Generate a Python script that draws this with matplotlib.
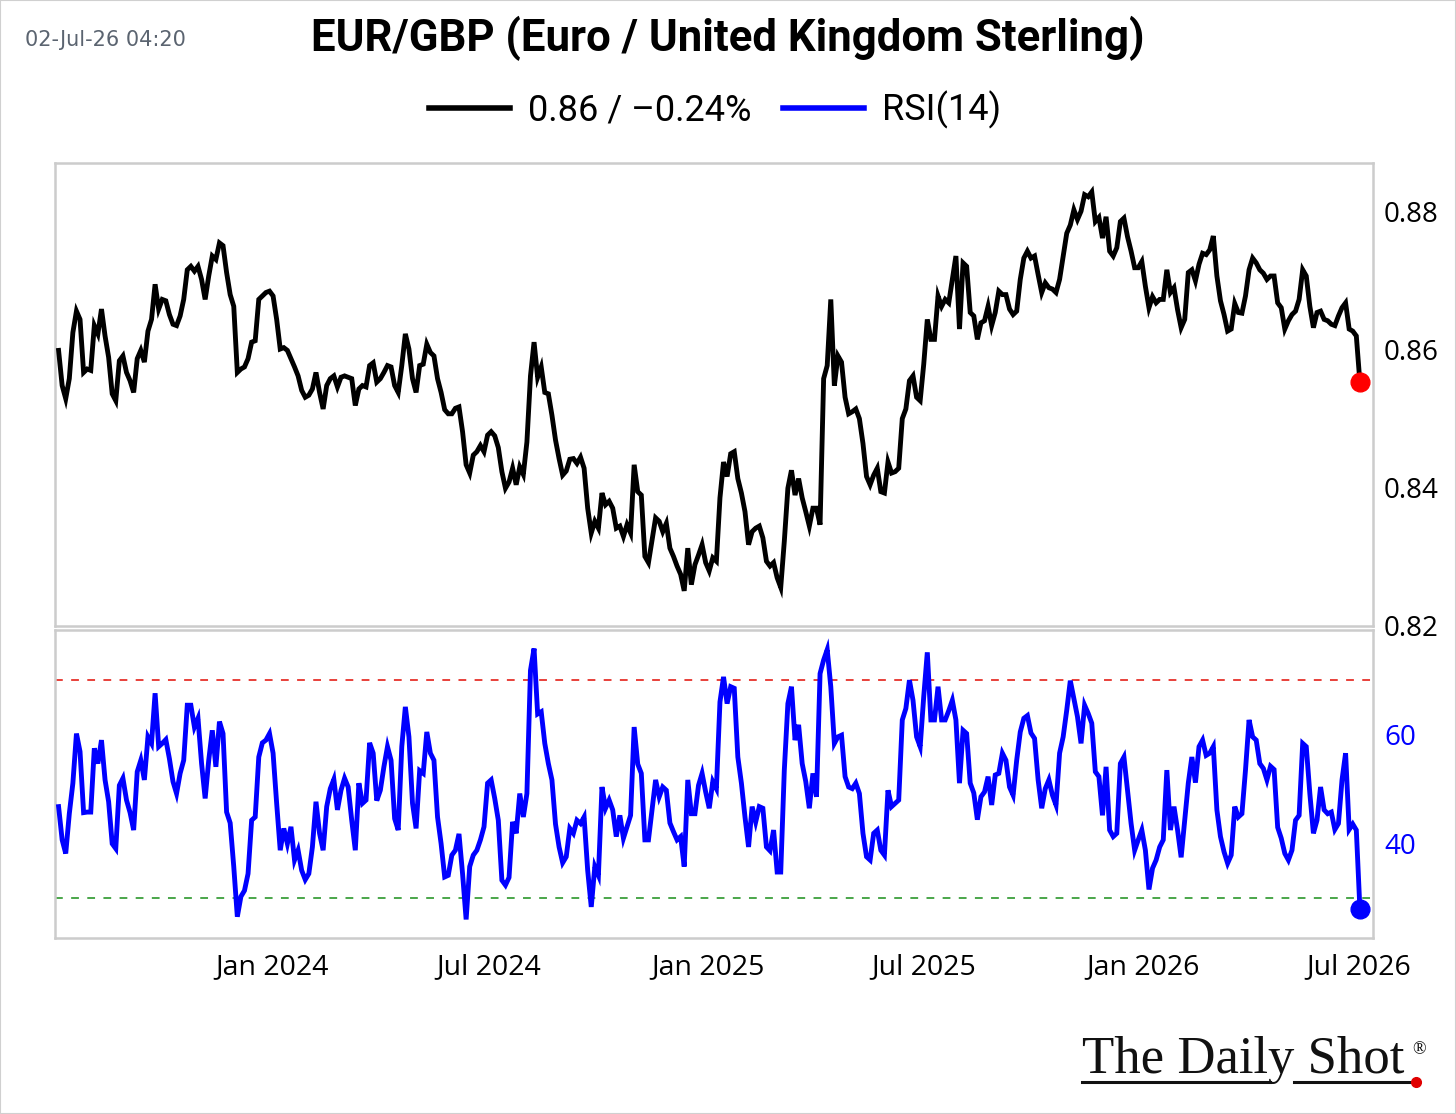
import matplotlib
matplotlib.use('Agg')
import matplotlib.pyplot as plt
from matplotlib.lines import Line2D
from matplotlib.patches import Rectangle
import pandas as pd

# ---------------- data (3-day sampling) ----------------
END_DATE = '2026-07-02'

price = [
    0.8599, 0.8548, 0.8529, 0.8558, 0.8625, 0.8656, 0.8644, 0.8567, 0.8572, 0.8570,
    0.8635, 0.8623, 0.8659, 0.8620, 0.8589, 0.8536, 0.8526, 0.8584, 0.8591, 0.8567,
    0.8555, 0.8538, 0.8587, 0.8599, 0.8582, 0.8627, 0.8644, 0.8695, 0.8659, 0.8673,
    0.8671, 0.8651, 0.8637, 0.8635, 0.8649, 0.8673, 0.8716, 0.8721, 0.8714, 0.8721,
    0.8702, 0.8673, 0.8707, 0.8736, 0.8731, 0.8755, 0.8751, 0.8712, 0.8680, 0.8663,
    0.8567, 0.8572, 0.8575, 0.8587, 0.8611, 0.8613, 0.8673, 0.8678, 0.8683, 0.8685,
    0.8678, 0.8644, 0.8601, 0.8603, 0.8599, 0.8587, 0.8575, 0.8562, 0.8541, 0.8531,
    0.8534, 0.8543, 0.8567, 0.8538, 0.8514, 0.8548, 0.8558, 0.8562, 0.8546, 0.8560,
    0.8562, 0.8560, 0.8558, 0.8519, 0.8543, 0.8548, 0.8546, 0.8577, 0.8581, 0.8553,
    0.8558, 0.8567, 0.8577, 0.8575, 0.8548, 0.8538, 0.8577, 0.8623, 0.8601, 0.8558,
    0.8538, 0.8577, 0.8579, 0.8608, 0.8596, 0.8591, 0.8558, 0.8538, 0.8513, 0.8507,
    0.8507, 0.8515, 0.8517, 0.8481, 0.8433, 0.8421, 0.8447, 0.8452, 0.8461, 0.8452,
    0.8476,
    0.8481, 0.8475, 0.8458, 0.8423, 0.8399, 0.8408, 0.8428, 0.8404, 0.8430, 0.8419,
    0.8466, 0.8562, 0.8611, 0.8560, 0.8575, 0.8538, 0.8536, 0.8505, 0.8469, 0.8442,
    0.8418, 0.8424, 0.8441, 0.8442, 0.8435, 0.8444, 0.8428, 0.8370, 0.8334, 0.8351,
    0.8341, 0.8392, 0.8375, 0.8380, 0.8370, 0.8341, 0.8344, 0.8329, 0.8346, 0.8334,
    0.8433, 0.8394, 0.8389, 0.8300, 0.8291, 0.8324, 0.8356, 0.8351, 0.8336, 0.8348,
    0.8312, 0.8300, 0.8286, 0.8274, 0.8250, 0.8312, 0.8259, 0.8288, 0.8302, 0.8317,
    0.8291, 0.8279, 0.8298, 0.8293, 0.8385, 0.8437, 0.8416, 0.8449, 0.8452, 0.8413,
    0.8392, 0.8365, 0.8317, 0.8336, 0.8341, 0.8344, 0.8327, 0.8293, 0.8286, 0.8291,
    0.8269, 0.8255, 0.8322, 0.8399, 0.8425, 0.8389, 0.8413, 0.8385, 0.8365, 0.8344,
    0.8370, 0.8370, 0.8346, 0.8558, 0.8577, 0.8673, 0.8548, 0.8591, 0.8582, 0.8531,
    0.8507, 0.8510, 0.8514, 0.8500, 0.8464, 0.8416, 0.8404, 0.8418, 0.8428, 0.8394,
    0.8392, 0.8437, 0.8421, 0.8423, 0.8428, 0.8500, 0.8514, 0.8555, 0.8562, 0.8531,
    0.8526, 0.8579, 0.8644, 0.8615,
    0.8615, 0.8678, 0.8663, 0.8673, 0.8668, 0.8702, 0.8736, 0.8630, 0.8726, 0.8721,
    0.8654, 0.8649, 0.8615, 0.8639, 0.8642, 0.8663, 0.8635, 0.8654, 0.8685, 0.8680,
    0.8680, 0.8659, 0.8651, 0.8656, 0.8702, 0.8733, 0.8743, 0.8733, 0.8736, 0.8709,
    0.8683, 0.8697, 0.8690, 0.8688, 0.8683, 0.8702, 0.8735, 0.8769, 0.8781, 0.8803,
    0.8789, 0.8801, 0.8825, 0.8822, 0.8829, 0.8786, 0.8792, 0.8762, 0.8793, 0.8743,
    0.8736, 0.8748, 0.8786, 0.8791, 0.8764, 0.8743, 0.8719, 0.8719, 0.8728, 0.8692,
    0.8661, 0.8677, 0.8668, 0.8673, 0.8673, 0.8716, 0.8683, 0.8690, 0.8658, 0.8632,
    0.8644, 0.8712, 0.8716, 0.8700, 0.8724, 0.8740, 0.8738, 0.8745, 0.8765, 0.8707,
    0.8671, 0.8651, 0.8627, 0.8630, 0.8667, 0.8654, 0.8653, 0.8678, 0.8716, 0.8733,
    0.8726, 0.8716, 0.8711, 0.8702, 0.8707, 0.8707, 0.8668, 0.8661, 0.8630, 0.8642,
    0.8651, 0.8656, 0.8673, 0.8716, 0.8707, 0.8663, 0.8632, 0.8654, 0.8656, 0.8644,
    0.8642, 0.8637, 0.8635, 0.8649, 0.8661, 0.8668, 0.8630, 0.8627, 0.8620, 0.8553,
]

rsi = [
    46.7, 40.6, 38.1, 45.4, 51.0, 60.1, 56.8, 45.6, 45.7, 45.7,
    57.4, 54.6, 58.9, 51.6, 47.6, 39.9, 39.0, 50.6, 51.9, 47.9,
    45.6, 42.4, 53.1, 55.2, 51.6, 59.5, 58.3, 67.5, 57.7, 58.3,
    59.0, 55.5, 51.3, 49.1, 52.8, 55.2, 65.3, 65.3, 61.3, 62.9,
    54.6, 48.2, 55.2, 60.7, 54.0, 62.3, 60.1, 45.7, 43.7, 35.7,
    26.5, 30.2, 31.3, 34.4, 44.2, 44.8, 55.8, 58.4, 58.9, 60.1,
    56.5, 47.3, 38.7, 42.7, 39.9, 43.0, 36.9, 38.7, 35.0, 33.3,
    34.4, 39.3, 47.6, 41.8, 38.7, 46.7, 50.0, 51.7, 46.1, 49.7,
    51.9, 50.3, 44.2, 38.7, 51.0, 47.3, 47.9, 58.4, 56.5, 47.8,
    49.7, 54.0, 57.7, 55.2, 44.5, 42.4, 57.7, 65.0, 59.5, 47.3,
    42.7, 53.3, 52.8, 60.4, 56.5, 55.2, 44.8, 39.9, 33.8, 34.1,
    37.8, 38.7, 41.7, 34.4, 26.0, 35.7, 37.8, 38.7, 40.6, 43.0,
    51.0,
    51.6, 48.2, 44.2, 33.2, 32.3, 33.7, 43.9, 41.8, 49.1, 44.8,
    49.1, 71.7, 75.7, 63.7, 64.1, 58.3, 54.6, 51.6, 43.5, 39.3,
    36.4, 37.5, 42.7, 41.8, 44.2, 43.6, 44.8, 35.0, 28.3, 35.7,
    34.1, 50.3, 46.4, 47.9, 46.1, 41.2, 45.1, 40.9, 43.0, 45.1,
    61.3, 54.5, 52.8, 40.6, 40.6, 46.1, 51.6, 48.5, 50.3, 49.7,
    43.7, 42.1, 40.6, 41.2, 35.7, 51.6, 45.4, 45.4, 50.6, 52.8,
    49.4, 46.4, 51.3, 50.0, 65.9, 70.5, 65.6, 68.7, 68.4, 55.8,
    51.0, 44.8, 39.3, 46.7, 43.9, 46.7, 46.4, 39.3, 38.6, 42.4,
    34.7, 34.7, 53.4, 65.6, 68.7, 58.9, 61.7, 54.6, 51.3, 46.4,
    52.8, 48.5, 71.1, 73.6, 75.5, 68.7, 58.3, 59.5, 59.8, 52.2,
    50.3, 50.0, 51.0, 49.1, 41.8, 37.5, 36.9, 41.8, 42.4, 38.7,
    37.8, 49.7, 46.7, 47.3, 47.9, 62.6, 64.7, 69.9, 66.2, 59.5,
    57.7, 66.9, 75.0, 62.6,
    62.6, 68.7, 62.6, 62.6, 64.3, 66.2, 62.6, 51.0, 60.7, 60.1,
    51.0, 49.2, 44.3, 48.5, 49.4, 52.2, 47.0, 52.5, 52.8, 56.5,
    55.2, 50.3, 48.8, 55.2, 60.4, 62.9, 63.4, 60.2, 59.2, 51.6,
    46.4, 50.0, 51.6, 48.8, 47.0, 56.5, 59.5, 64.4, 69.8, 66.5,
    63.2, 58.3, 65.3, 63.8, 62.0, 53.1, 52.2, 45.1, 54.0, 42.4,
    41.2, 41.8, 54.6, 55.8, 49.7, 43.6, 38.7, 40.6, 42.4, 38.7,
    31.5, 35.4, 36.9, 39.3, 40.6, 53.4, 42.4, 46.7, 42.4, 37.4,
    44.2, 51.0, 55.8, 51.1, 57.7, 58.9, 56.1, 56.5, 57.7, 46.1,
    41.2, 38.4, 36.3, 37.8, 46.7, 44.8, 45.4, 53.4, 62.6, 59.5,
    58.9, 54.6, 53.7, 51.6, 54.1, 53.5, 42.9, 40.9, 38.1, 36.9,
    38.7, 44.2, 45.1, 58.3, 57.7, 49.1, 41.8, 44.2, 50.3, 46.1,
    45.4, 45.7, 42.5, 43.6, 51.6, 56.5, 42.5, 43.5, 42.4, 28.0,
]

price_ticks = [0.82, 0.84, 0.86, 0.88]
rsi_ticks = [40, 60]
rsi_overbought = 70
rsi_oversold = 30
x_tick_dates = ['2024-01-01', '2024-07-01', '2025-01-01', '2025-07-01', '2026-01-01', '2026-07-01']
x_tick_labels = ['Jan 2024', 'Jul 2024', 'Jan 2025', 'Jul 2025', 'Jan 2026', 'Jul 2026']
title = 'EUR/GBP (Euro / United Kingdom Sterling)'
legend_labels = ['0.86 / –0.24%', 'RSI(14)']
timestamp = '02-Jul-26 04:20'

# ---------------- figure ----------------
plt.rcParams['font.family'] = ['Roboto', 'DejaVu Sans']
W, H = 1456, 1114
fig = plt.figure(figsize=(W / 100, H / 100), dpi=100)


def fx(px):
    return px / W


def fy(py):
    return 1 - py / H


dates = pd.date_range(end=END_DATE, periods=len(price), freq='3D')

ax1 = fig.add_axes([fx(55), fy(626), fx(1373) - fx(55), fy(163) - fy(626)])
ax2 = fig.add_axes([fx(55), fy(938), fx(1373) - fx(55), fy(630) - fy(938)], sharex=ax1)

BLUE = '#0000ff'
SPINE = '#cccccc'
TICK_FONT = ['Open Sans', 'DejaVu Sans']

ax1.plot(dates, price, color='black', lw=3.5, solid_joinstyle='miter', zorder=3)
ax1.plot(dates[-1:], price[-1:], 'o', color='#ff0000', ms=13.5, zorder=4)

ax2.plot(dates, rsi, color=BLUE, lw=3.5, solid_joinstyle='miter', zorder=3)
ax2.plot(dates[-1:], rsi[-1:], 'o', color=BLUE, ms=13.5, zorder=4)
ax2.axhline(rsi_overbought, color='#e8403a', lw=1.4, ls=(0, (4, 4.3)), zorder=2)
ax2.axhline(rsi_oversold, color='#4aa64a', lw=1.4, ls=(0, (4, 4.3)), zorder=2)

ax1.set_xlim(pd.Timestamp('2023-07-03'), pd.Timestamp('2026-07-13'))
ax1.set_ylim(0.8199, 0.8871)
ax2.set_ylim(22.6, 79.1)

for ax in (ax1, ax2):
    for s in ax.spines.values():
        s.set_color(SPINE)
        s.set_linewidth(1.8)
    ax.yaxis.tick_right()
    ax.tick_params(axis='y', length=0, pad=8, labelsize=20)
    ax.set_facecolor('white')

ax1.set_yticks(price_ticks)
ax1.set_yticklabels([f'{v:.2f}' for v in price_ticks], family=TICK_FONT)
ax2.set_yticks(rsi_ticks)
ax2.set_yticklabels([str(v) for v in rsi_ticks], family=TICK_FONT)
ax2.tick_params(axis='y', labelcolor=BLUE)

ax2.set_xticks(pd.to_datetime(x_tick_dates))
ax2.set_xticklabels(x_tick_labels, family=TICK_FONT)
ax2.tick_params(axis='x', length=0, pad=11, labelsize=20.5)
ax1.tick_params(axis='x', length=0, labelbottom=False)

# ---------------- texts ----------------
fig.text(fx(728), fy(38), title, ha='center', va='center', fontsize=31.5,
         fontweight='bold', color='black')
fig.text(fx(25), fy(40), timestamp, ha='left', va='center', fontsize=15,
         family=['DejaVu Sans'], color='#5b6470')

handles = [Line2D([], [], color='black', lw=4), Line2D([], [], color=BLUE, lw=4)]
fig.legend(handles, legend_labels, loc='center', bbox_to_anchor=(fx(715), fy(110)),
           ncol=2, frameon=False, fontsize=26, handlelength=2.25,
           handletextpad=0.5, columnspacing=0.85)

# logo
fig.text(fx(1082), fy(1073), 'The Daily Shot', family=['Liberation Serif', 'DejaVu Serif'],
         fontsize=38, ha='left', va='baseline', color='#111111')
fig.text(fx(1412), fy(1054), '®', family=['Liberation Serif', 'DejaVu Serif'],
         fontsize=13, ha='left', va='baseline', color='#111111')
fig.add_artist(Line2D([fx(1082), fx(1270)], [fy(1082), fy(1082)], color='#111111', lw=2.2,
                      transform=fig.transFigure))
fig.add_artist(Line2D([fx(1294), fx(1413)], [fy(1082), fy(1082)], color='#111111', lw=2.2,
                      transform=fig.transFigure))
fig.add_artist(Line2D([fx(1416)], [fy(1082)], marker='o', color='#e00000', ms=7,
                      transform=fig.transFigure))

fig.add_artist(Rectangle((0, 0), 1, 1, transform=fig.transFigure, fill=False,
                         edgecolor='#d0d0d0', lw=1.5))

fig.savefig('out.png', dpi=100, facecolor='white')
